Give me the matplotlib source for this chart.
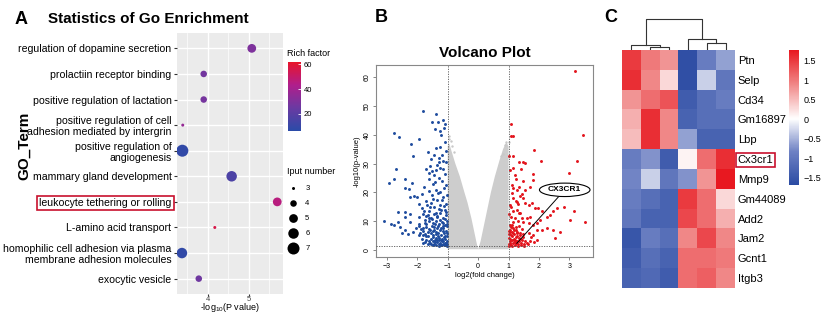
import matplotlib
matplotlib.use("Agg")
import matplotlib.pyplot as plt
import matplotlib.colors as mcolors
import numpy as np

plt.rcParams.update({
    "font.family": "Liberation Sans",
    "mathtext.fontset": "custom",
    "mathtext.rm": "Liberation Sans",
    "mathtext.it": "Liberation Sans:italic",
})

# ---------------- Panel A data: GO enrichment ----------------
go_terms = [
    "regulation of dopamine secretion",
    "prolactiin receptor binding",
    "positive regulation of lactation",
    "positive regulation of cell\nadhesion mediated by intergrin",
    "positive regulation of\nangiogenesis",
    "mammary gland development",
    "leukocyte tethering or rolling",
    "L-amino acid transport",
    "homophilic cell adhesion via plasma\nmembrane adhesion molecules",
    "exocytic vesicle",
]
go_logp = [5.07, 3.90, 3.90, 3.39, 3.38, 4.58, 5.69, 4.17, 3.37, 3.78]
go_rich = [30, 27, 28, 36, 8, 16, 46, 56, 8, 26]
go_count = [5, 4, 4, 3, 7, 6, 5, 3, 6, 4]
count_levels = [3, 4, 5, 6, 7]

# ---------------- Panel B data: volcano ----------------
blue_x = [-1.80, -1.39, -1.52, -1.33, -1.17, -1.08, -2.76, -2.60, -1.94, -1.41, -1.27, -1.23, -1.12,
          -2.20, -1.38, -1.27, -1.65, -2.14, -1.10, -1.05, -1.20, -1.30, -1.45, -1.55, -1.15, -1.05,
          -2.94, -2.76, -2.71, -2.42, -2.42, -2.26, -2.16, -2.10, -2.02, -2.25, -1.77, -1.71, -1.58,
          -1.52, -1.35, -1.25, -1.45, -1.30, -1.60, -1.50, -1.20, -1.10, -1.05, -1.40, -1.25, -1.62,
          -1.85, -1.15, -1.35, -1.55, -1.70, -1.05, -1.25, -1.45, -1.85, -1.95, -1.10, -1.60,
          -3.09, -2.87, -2.76, -2.62, -2.56, -2.64, -2.40, -2.40, -2.25, -2.25, -2.40, -2.13, -1.96,
          -1.93, -1.93, -2.05, -1.80, -1.75, -1.70, -1.80, -2.30, -2.50,
          -1.65, -1.55, -1.45, -1.35, -1.25, -1.15, -1.05, -1.60, -1.50, -1.40, -1.30, -1.20, -1.10,
          -1.02, -1.70, -1.62, -1.52, -1.45, -1.35, -1.25, -1.15, -1.05, -1.75, -1.65, -1.55, -1.48,
          -1.40, -1.32, -1.22, -1.12, -1.04, -1.85, -1.70, -1.60, -1.50, -1.42, -1.35, -1.28, -1.20,
          -1.10, -1.03, -1.55, -1.45, -1.38, -1.30, -1.22, -1.15, -1.08, -1.02, -1.18, -1.08, -1.28,
          -1.38, -1.48, -1.58, -1.12, -1.22, -1.32, -1.42, -1.04, -1.14, -1.90, -1.80, -1.75, -1.95,
          -1.02, -1.06, -1.10, -1.14, -1.18, -1.24, -1.30, -1.36, -1.42, -1.50, -1.58, -1.66, -1.74, -1.82,
          -1.03, -1.09, -1.16, -1.23, -1.31, -1.39, -1.47, -1.56, -1.64, -1.72, -1.80, -1.88,
          -1.02, -1.08, -1.17, -1.26, -1.34, -1.44, -1.53, -1.62, -1.70, -1.78,
          -1.06, -1.13, -1.21, -1.29, -1.37, -1.47, -1.57, -1.67,
          -1.04, -1.12, -1.20, -1.32, -1.42, -1.52, -1.62, -1.40, -1.28, -1.16]
blue_y = [48.2, 47.3, 44.5, 44.5, 45.2, 43.8, 40.6, 39.2, 38.6, 41.9, 41.3, 39.9, 42.2,
          36.9, 35.5, 35.8, 33.9, 32.5, 37.5, 34.5, 33.0, 32.0, 33.0, 31.5, 31.0, 30.5,
          23.4, 24.6, 28.2, 24.6, 21.5, 21.2, 23.2, 18.9, 18.5, 18.3, 22.0, 28.2, 29.0,
          27.5, 29.5, 28.5, 26.0, 25.0, 24.5, 23.0, 24.0, 26.5, 22.5, 21.0, 20.0, 20.5,
          19.5, 18.5, 17.5, 16.5, 17.0, 16.0, 15.5, 15.0, 14.5, 16.0, 14.0, 13.5,
          10.2, 9.2, 8.7, 9.9, 8.0, 13.1, 13.1, 11.6, 12.4, 9.9, 7.0, 6.4, 11.4,
          9.1, 5.2, 7.5, 6.5, 9.5, 11.8, 12.5, 5.5, 6.0,
          12.0, 11.0, 12.5, 11.5, 12.8, 11.0, 12.0, 10.0, 9.5, 10.2, 9.0, 9.8, 8.8,
          10.0, 8.0, 7.2, 8.2, 7.0, 7.8, 6.8, 7.5, 6.5, 5.5, 5.0, 5.8, 4.5,
          5.5, 4.8, 5.2, 4.5, 4.8, 4.0, 3.5, 3.2, 3.0, 3.5, 2.8, 3.4, 3.0,
          2.6, 3.2, 2.2, 2.0, 1.8, 2.1, 1.9, 2.2, 1.7, 2.0, 4.0, 3.8, 4.2,
          6.2, 6.5, 6.8, 6.0, 7.8, 8.5, 9.2, 8.2, 9.5, 6.0, 7.8, 10.5, 8.5,
          1.5, 2.4, 1.9, 3.0, 1.6, 2.6, 1.4, 3.6, 2.7, 1.6, 2.5, 2.0, 2.8, 2.3,
          5.8, 5.0, 6.6, 3.6, 5.9, 4.3, 5.4, 4.0, 6.1, 4.8, 5.2, 7.2,
          9.0, 10.8, 8.4, 10.6, 11.8, 8.0, 10.8, 11.2, 9.2, 13.6,
          13.2, 15.2, 13.8, 14.2, 13.0, 17.8, 14.8, 15.8,
          19.0, 21.6, 17.2, 19.8, 23.5, 19.0, 26.8, 27.8, 30.5, 28.0]

red_x = [3.20, 3.46, 1.07, 1.07, 1.14, 1.84, 1.00, 1.15, 1.36, 1.49, 1.55, 2.06, 3.25, 1.05,
         1.16, 1.40, 1.82, 1.49, 1.79, 3.00, 1.27, 1.71,
         1.11, 1.16, 1.27, 1.38, 1.49, 1.55, 1.66, 1.77, 1.88, 1.98, 2.10, 1.05, 1.16, 1.27,
         1.38, 1.44, 1.49, 1.60, 1.71, 1.66, 1.82, 1.93, 2.04, 2.26, 2.37, 2.48, 2.59, 2.81,
         3.14, 3.03, 3.52, 1.93, 2.10, 2.26, 2.48, 2.70, 2.54, 1.82, 1.66, 1.49, 1.38, 1.27, 1.05,
         1.02, 1.08, 1.15, 1.22, 1.30, 1.40, 1.50, 1.60, 1.05, 1.12, 1.20, 1.28, 1.36, 1.45,
         1.55, 1.70, 1.03, 1.10, 1.18, 1.25, 1.33, 1.42, 1.02, 1.10, 1.18, 1.28, 1.04, 1.14,
         1.24, 1.05, 1.15, 1.08, 1.20, 1.30, 1.35, 1.45, 1.85, 1.95, 1.75,
         1.10, 1.25, 1.35, 1.55, 1.20, 1.45,
         1.02, 1.06, 1.11, 1.17, 1.24, 1.32, 1.41, 1.52, 1.63,
         1.04, 1.09, 1.14, 1.21, 1.29, 1.38, 1.48,
         1.02, 1.07, 1.13, 1.19, 1.26, 1.34,
         1.03, 1.09, 1.16, 1.23, 1.31]
red_y = [62.1, 40.0, 43.9, 39.5, 39.5, 34.8, 32.5, 32.5, 30.5, 30.5, 30.2, 31.0, 31.0, 27.9,
         28.5, 28.2, 26.4, 24.0, 24.3, 26.7, 20.9, 22.0,
         19.8, 18.0, 16.8, 18.6, 18.0, 16.3, 15.7, 16.3, 14.5, 14.5, 13.4, 15.7, 13.4, 14.0,
         12.8, 11.0, 9.9, 11.0, 11.6, 9.3, 8.7, 9.3, 10.4, 11.6, 12.2, 13.4, 14.5, 15.1,
         13.4, 10.4, 9.9, 7.0, 7.0, 7.5, 7.0, 6.4, 4.1, 5.2, 5.8, 4.6, 5.2, 6.4, 6.4,
         2.0, 1.7, 2.3, 1.9, 2.2, 1.8, 2.0, 2.5, 3.0, 3.5, 2.8, 3.2, 3.0, 3.4,
         3.0, 3.2, 4.2, 4.8, 4.0, 4.5, 4.2, 4.0, 5.5, 6.2, 5.5, 5.8, 7.0, 7.5,
         8.0, 8.8, 9.8, 11.5, 11.0, 10.0, 8.5, 7.2, 2.8, 3.5, 4.5,
         22.5, 24.5, 22.0, 21.0, 26.0, 19.5,
         1.5, 2.6, 1.4, 3.4, 2.6, 1.5, 2.6, 1.4, 2.0,
         3.8, 5.2, 6.0, 3.5, 4.8, 6.0, 5.6,
         6.7, 8.0, 8.6, 7.0, 6.8, 13.0,
         12.6, 14.8, 21.5, 17.0, 16.0]

# dense non-significant cloud (outline of the two wings)
gray_left_x = [-1.00, -1.00, -0.95, -0.88, -0.75, -0.60, -0.45, -0.35, -0.22, -0.12, -0.05, 0.00]
gray_left_y = [0.3, 36.0, 37.0, 34.5, 30.0, 25.5, 20.0, 16.5, 11.0, 6.0, 2.5, 0.3]
gray_right_x = [0.00, 0.08, 0.18, 0.30, 0.42, 0.55, 0.70, 0.82, 0.93, 1.00, 1.00]
gray_right_y = [0.3, 3.0, 8.0, 14.0, 20.0, 25.5, 31.0, 35.0, 37.5, 36.0, 0.3]
gray_x = [-0.95, -0.85, -0.90, -0.78, -0.97, 0.92, 1.00, 0.81, 0.88, 0.75]
gray_y = [39.4, 36.2, 37.8, 34.0, 38.5, 37.5, 37.5, 33.5, 36.5, 32.5]

fc_cut = 1.0
p_cut = 1.3

# ---------------- Panel C data: heatmap ----------------
genes = ["Ptn", "Selp", "Cd34", "Gm16897", "Lbp", "Cx3cr1", "Mmp9",
         "Gm44089", "Add2", "Jam2", "Gcnt1", "Itgb3"]
heat = np.array([
    [1.5, 1.0, 0.8, -1.6, -0.9, -0.6],
    [1.6, 0.9, 0.3, -1.6, -0.3, -1.0],
    [0.8, 1.1, 1.3, -1.4, -1.1, -0.9],
    [0.6, 1.6, 0.9, -1.3, -1.1, -1.1],
    [0.5, 1.6, 0.9, -0.6, -1.3, -1.3],
    [-0.9, -0.7, -1.4, 0.1, 1.1, 1.6],
    [-0.8, -0.3, -1.0, -0.7, 0.8, 1.8],
    [-0.9, -1.1, -1.3, 1.5, 1.1, 0.3],
    [-1.0, -1.3, -1.3, 1.4, 1.1, 0.6],
    [-1.5, -0.9, -1.1, 0.9, 1.4, 0.9],
    [-1.4, -1.1, -1.3, 1.1, 1.1, 1.0],
    [-1.3, -1.2, -1.4, 1.1, 1.2, 0.9],
])
# column dendrogram merges: (left pos, right pos, left child h, right child h, merge h)
dendro = [
    (1.0, 2.0, 0.0, 0.0, 0.8),     # col2 + col3
    (0.0, 1.5, 0.0, 0.8, 1.4),     # col1 + (2,3)
    (4.0, 5.0, 0.0, 0.0, 2.1),     # col5 + col6
    (3.0, 4.5, 0.0, 2.1, 3.4),     # col4 + (5,6)
    (0.75, 3.75, 1.4, 3.4, 10.0),  # top
]
heat_ticks = [1.5, 1, 0.5, 0, -0.5, -1, -1.5]

# ---------------- layout helpers ----------------
W, H = 824, 316


def box(l, t, r, b):
    return [l / W, 1 - b / H, (r - l) / W, (b - t) / H]


fig = plt.figure(figsize=(W / 100, H / 100), dpi=100)

# =============== Panel A ===============
rich_cmap = mcolors.LinearSegmentedColormap.from_list(
    "rich", ["#2a4ba8", "#6a3aa2", "#b01e8c", "#e8152a"])
rich_norm = mcolors.Normalize(vmin=6, vmax=62)


def dot_area(n):
    n = np.asarray(n, dtype=float)
    return 0.5184 * (9 + (n - 3) * 33.75)


axA = fig.add_axes(box(177, 33, 283, 294))
axA.set_facecolor("#EBEBEB")
rows = np.arange(1, len(go_terms) + 1)
axA.scatter(go_logp, rows, s=dot_area(go_count), c=go_rich, cmap=rich_cmap,
            norm=rich_norm, zorder=3, linewidths=0)
axA.set_xlim(3.25, 5.83)
axA.set_ylim(10.6, 0.4)
axA.set_xticks([4, 5])
axA.set_xticks([3.5, 4.5, 5.5], minor=True)
axA.set_yticks(rows)
axA.set_yticklabels(go_terms, fontsize=7.6, linespacing=1.15)
axA.tick_params(axis="y", length=2.5, width=0.8, color="#333333", pad=1.5)
axA.tick_params(axis="x", which="major", length=1.5, width=0.8, color="#333333",
                labelsize=5.5, labelcolor="#444444", pad=0)
axA.tick_params(axis="x", which="minor", length=0)
axA.grid(True, which="major", color="white", lw=1.0, zorder=0)
axA.grid(True, which="minor", axis="x", color="white", lw=0.5, zorder=0)
axA.set_axisbelow(True)
for s in axA.spines.values():
    s.set_visible(False)
for lab in axA.get_yticklabels():
    if lab.get_text().startswith("leukocyte"):
        lab.set_bbox(dict(facecolor="none", edgecolor="#c8102e", lw=1.2, pad=1.5))

fig.text(230 / W, 1 - 308 / H, "-log$_{10}$(P value)", fontsize=6.5,
         ha="center", va="center")
fig.text(15 / W, 1 - 19 / H, "A", fontsize=13, fontweight="bold", va="center")
fig.text(48 / W, 1 - 19 / H, "Statistics of Go Enrichment", fontsize=11,
         fontweight="bold", va="center")
fig.text(24 / W, 1 - 146 / H, "GO_Term", fontsize=11, fontweight="bold",
         rotation=90, va="center", ha="center")

# rich factor colorbar
caxA = fig.add_axes(box(288, 62, 301, 131))
cbA = fig.colorbar(plt.cm.ScalarMappable(norm=rich_norm, cmap=rich_cmap), cax=caxA)
cbA.set_ticks([20, 40, 60])
cbA.outline.set_visible(False)
caxA.tick_params(length=2, width=0.6, color="white", labelsize=5.5, pad=2,
                 direction="in")
fig.text(287 / W, 1 - 53 / H, "Rich factor", fontsize=6.5, va="center")

# size legend
fig.text(287 / W, 1 - 172 / H, "Iput number", fontsize=6.5, va="center")
axL = fig.add_axes(box(284, 181, 320, 256))
axL.scatter(np.zeros(len(count_levels)), np.arange(len(count_levels)),
            s=dot_area(count_levels), color="black", linewidths=0)
for i, n in enumerate(count_levels):
    axL.text(1.1, i, str(n), fontsize=5.5, va="center")
axL.set_xlim(-0.9, 2.5)
axL.set_ylim(len(count_levels) - 0.5, -0.5)
axL.axis("off")

# =============== Panel B ===============
axB = fig.add_axes(box(376, 65, 593, 257))
axB.fill(gray_left_x, gray_left_y, color="#cdcdcd", lw=0, zorder=1)
axB.fill(gray_right_x, gray_right_y, color="#cdcdcd", lw=0, zorder=1)
axB.scatter(gray_x, gray_y, s=3, color="#c8c8c8", lw=0, zorder=1)
axB.scatter(blue_x, blue_y, s=4.5, color="#1f4c9e", lw=0, zorder=2)
axB.scatter(red_x, red_y, s=4.5, color="#e3141c", lw=0, zorder=2)
axB.axvline(-fc_cut, color="#555555", lw=0.6, ls=(0, (1.5, 1.5)), zorder=3)
axB.axvline(fc_cut, color="#555555", lw=0.6, ls=(0, (1.5, 1.5)), zorder=3)
axB.axhline(p_cut, color="#555555", lw=0.6, ls=(0, (1.5, 1.5)), zorder=3)
axB.annotate("CX3CR1", xy=(1.27, 2.3), xytext=(2.85, 20.9), fontsize=6,
             fontweight="bold", ha="center", va="center",
             bbox=dict(boxstyle="ellipse,pad=0.15", fc="white", ec="black", lw=0.8),
             arrowprops=dict(arrowstyle="-", color="black", lw=0.7, shrinkA=0, shrinkB=0))
axB.set_xlim(-3.36, 3.78)
axB.set_ylim(-2.4, 64.2)
axB.set_xticks([-3, -2, -1, 0, 1, 2, 3])
axB.set_yticks([0, 10, 20, 30, 40, 50, 60])
axB.tick_params(length=2.5, width=0.5, color="#555555", labelsize=5, pad=1.5)
for lab in axB.get_yticklabels():
    lab.set_rotation(90)
    lab.set_va("center")
for s in axB.spines.values():
    s.set_color("#888888")
    s.set_linewidth(0.8)
axB.set_xlabel("log2(fold change)", fontsize=5.5, labelpad=1.5)
axB.set_ylabel("-log10(p-value)", fontsize=5.5, labelpad=2)
axB.set_title("Volcano Plot", fontsize=11, fontweight="bold", pad=6)
fig.text(375 / W, 1 - 18 / H, "B", fontsize=13, fontweight="bold", va="center")

# =============== Panel C ===============
heat_cmap = mcolors.LinearSegmentedColormap.from_list(
    "heat", [(0, "#2b4ba3"), (0.25, "#6f82c4"), (0.49, "#ffffff"),
             (0.75, "#f08585"), (1, "#e81820")])
heat_norm = mcolors.Normalize(vmin=-1.68, vmax=1.78)

axC = fig.add_axes(box(622, 50, 735, 288))
axC.imshow(heat, cmap=heat_cmap, norm=heat_norm, aspect="auto")
axC.set_xticks([])
axC.yaxis.tick_right()
axC.set_yticks(np.arange(len(genes)))
axC.set_yticklabels(genes, fontsize=8)
axC.tick_params(axis="y", length=0, pad=2)
for s in axC.spines.values():
    s.set_visible(False)
for lab in axC.get_yticklabels():
    if lab.get_text() == "Cx3cr1":
        lab.set_bbox(dict(facecolor="none", edgecolor="#c8102e", lw=1.2, pad=1.2))

axD = fig.add_axes(box(622, 18, 735, 50))
for xl, xr, hl, hr, hm in dendro:
    axD.plot([xl, xl, xr, xr], [hl, hm, hm, hr], color="#333333", lw=0.8)
axD.set_xlim(-0.5, heat.shape[1] - 0.5)
axD.set_ylim(-0.3, 10.2)
axD.axis("off")

caxC = fig.add_axes(box(789, 50, 799, 185))
cbC = fig.colorbar(plt.cm.ScalarMappable(norm=heat_norm, cmap=heat_cmap), cax=caxC)
cbC.set_ticks(heat_ticks)
cbC.set_ticklabels(["1.5", "1", "0.5", "0", "\u22120.5", "\u22121", "\u22121.5"])
cbC.outline.set_visible(False)
caxC.tick_params(length=0, labelsize=6.5, pad=3)
fig.text(604 / W, 1 - 18 / H, "C", fontsize=13, fontweight="bold", va="center")

fig.savefig("out.png", dpi=100)
